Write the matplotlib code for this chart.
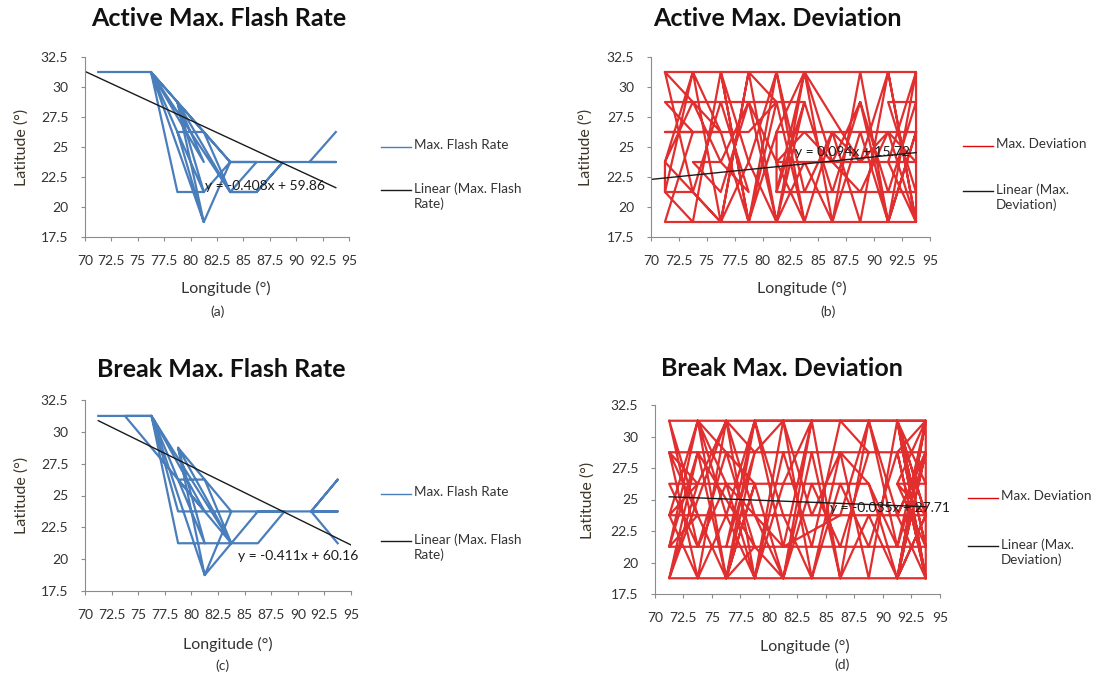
import matplotlib
matplotlib.use("Agg")
import matplotlib.pyplot as plt
from matplotlib.lines import Line2D
import numpy as np

W, H = 1096, 677
plt.rcParams["font.family"] = ["Lato", "DejaVu Sans"]

BLUE = "#4a7ebb"
RED = "#dc0a0a"
TXT = "#333333"

TITLES = ["Active Max. Flash Rate", "Active Max. Deviation",
          "Break Max. Flash Rate", "Break Max. Deviation"]
SERIES = ["Max. Flash Rate", "Max. Deviation", "Max. Flash Rate", "Max. Deviation"]
TREND_LABELS = ["Linear (Max. Flash\nRate)", "Linear (Max.\nDeviation)",
                "Linear (Max. Flash\nRate)", "Linear (Max.\nDeviation)"]
PANEL_TAGS = ["(a)", "(b)", "(c)", "(d)"]

# trend line coefficients as printed on the chart (slope, intercept) and x-span
TREND_SLOPE = [-0.408, 0.094, -0.411, -0.035]
TREND_ICPT = [59.86, 15.72, 60.16, 27.71]
TREND_X = [(70.0, 93.75), (70.0, 93.75), (71.25, 95.0), (71.25, 93.75)]
EQ_TEXT = ["y = -0.408x + 59.86", "y = 0.094x + 15.72",
           "y = -0.411x + 60.16", "y = -0.035x + 27.71"]
EQ_POS = [(81.4, 21.75), (82.9, 24.58), (84.4, 20.25), (85.35, 24.33)]

X_TICKS = [70, 72.5, 75, 77.5, 80, 82.5, 85, 87.5, 90, 92.5, 95]
Y_TICKS = [17.5, 20, 22.5, 25, 27.5, 30, 32.5]

# (a) active, max flash rate track
a_lon = [71.25, 73.75, 76.25, 78.75, 81.25, 76.25, 81.25, 83.75, 78.75, 81.25,
         78.75, 81.25, 83.75, 76.25, 78.75, 81.25, 83.75, 76.25, 81.25, 78.75,
         83.75, 86.25, 83.75, 88.75, 86.25, 83.75, 86.25, 88.75, 91.25, 93.75,
         91.25, 93.75]
a_lat = [31.25, 31.25, 31.25, 21.25, 21.25, 31.25, 18.75, 23.75, 28.75, 18.75,
         26.25, 26.25, 21.25, 31.25, 28.75, 21.25, 23.75, 31.25, 23.75, 28.75,
         21.25, 23.75, 23.75, 23.75, 21.25, 21.25, 21.25, 23.75, 23.75, 23.75,
         23.75, 26.25]

# (b) active, max deviation track
b_lon = [71.25, 93.75, 91.25, 88.75, 86.25, 83.75, 81.25, 78.75, 76.25, 73.75,
         71.25, 73.75, 76.25, 78.75, 81.25, 83.75, 86.25, 88.75, 91.25, 93.75,
         71.25, 73.75, 71.25, 83.75, 81.25, 83.75, 86.25, 88.75, 91.25, 93.75,
         91.25, 93.75, 81.25, 81.25, 93.75, 91.25, 88.75, 86.25, 83.75, 81.25,
         78.75, 76.25, 73.75, 76.25, 78.75, 76.25, 73.75, 71.25, 71.25, 73.75,
         76.25, 71.25, 78.75, 81.25, 78.75, 76.25, 78.75, 81.25, 83.75, 86.25,
         88.75, 91.25, 93.75, 81.25, 83.75, 81.25, 78.75, 76.25, 71.25, 73.75,
         76.25, 78.75, 81.25, 83.75, 88.75, 91.25, 93.75, 91.25, 93.75, 93.75,
         91.25, 88.75, 86.25, 83.75, 81.25, 78.75, 76.25, 73.75, 71.25, 73.75,
         76.25, 78.75, 81.25, 83.75, 86.25, 88.75, 91.25, 93.75]
b_lat = [31.25, 31.25, 18.75, 31.25, 18.75, 31.25, 18.75, 31.25, 18.75, 31.25,
         21.25, 18.75, 31.25, 18.75, 31.25, 18.75, 26.25, 18.75, 31.25, 18.75,
         18.75, 26.25, 28.75, 28.75, 21.25, 31.25, 23.75, 28.75, 21.25, 28.75,
         28.75, 21.25, 21.25, 26.25, 26.25, 18.75, 26.25, 18.75, 23.75, 18.75,
         28.75, 21.25, 23.75, 23.75, 21.25, 28.75, 21.25, 21.25, 23.75, 28.75,
         26.25, 26.25, 26.25, 28.75, 18.75, 31.25, 23.75, 31.25, 21.25, 26.25,
         23.75, 26.25, 23.75, 23.75, 18.75, 28.75, 31.25, 18.75, 23.75, 31.25,
         26.25, 18.75, 26.25, 31.25, 23.75, 31.25, 18.75, 23.75, 31.25, 18.75,
         26.25, 21.25, 23.75, 26.25, 23.75, 28.75, 23.75, 28.75, 31.25, 21.25,
         18.75, 23.75, 18.75, 28.75, 21.25, 28.75, 18.75, 26.25]

# (c) break, max flash rate track
c_lon = [71.25, 76.25, 73.75, 81.25, 76.25, 78.75, 86.25, 88.75, 78.75, 76.25,
         81.25, 83.75, 78.75, 81.25, 76.25, 83.75, 78.75, 81.25, 83.75, 78.75,
         81.25, 83.75, 86.25, 93.75, 91.25, 93.75, 91.25, 93.75]
c_lat = [31.25, 31.25, 31.25, 23.75, 31.25, 21.25, 21.25, 23.75, 23.75, 31.25,
         18.75, 23.75, 28.75, 21.25, 31.25, 21.25, 28.75, 18.75, 21.25, 26.25,
         26.25, 21.25, 23.75, 23.75, 23.75, 26.25, 23.75, 21.25]

# (d) break, max deviation track
d_lon = [71.25, 93.75, 91.25, 93.75, 71.25, 73.75, 76.25, 78.75, 81.25, 83.75,
         86.25, 88.75, 91.25, 93.75, 71.25, 73.75, 76.25, 78.75, 81.25, 83.75,
         86.25, 88.75, 91.25, 93.75, 91.25, 93.75, 71.25, 73.75, 71.25, 93.75,
         91.25, 93.75, 91.25, 93.75, 91.25, 88.75, 71.25, 73.75, 76.25, 78.75,
         76.25, 73.75, 71.25, 76.25, 78.75, 81.25, 83.75, 86.25, 88.75, 86.25,
         83.75, 81.25, 78.75, 76.25, 73.75, 71.25, 73.75, 76.25, 78.75, 81.25,
         83.75, 86.25, 88.75, 91.25, 93.75, 91.25, 93.75, 91.25, 88.75, 86.25,
         83.75, 81.25, 78.75, 76.25, 73.75, 71.25, 73.75, 76.25, 78.75, 81.25,
         83.75, 86.25, 88.75, 91.25, 93.75, 91.25, 93.75, 91.25, 93.75, 91.25,
         93.75, 78.75, 76.25, 78.75, 76.25, 78.75, 73.75, 76.25, 78.75, 81.25,
         83.75, 81.25, 78.75, 73.75, 71.25, 73.75, 71.25, 73.75, 76.25, 81.25,
         86.25, 88.75, 91.25, 93.75, 91.25, 93.75, 93.75]
d_lat = [31.25, 31.25, 18.75, 28.75, 28.75, 18.75, 31.25, 18.75, 31.25, 18.75,
         28.75, 18.75, 31.25, 21.25, 21.25, 31.25, 18.75, 31.25, 21.25, 31.25,
         18.75, 31.25, 21.25, 31.25, 28.75, 18.75, 18.75, 26.25, 23.75, 23.75,
         26.25, 26.25, 31.25, 23.75, 18.75, 26.25, 26.25, 21.25, 28.75, 21.25,
         18.75, 28.75, 18.75, 31.25, 23.75, 18.75, 26.25, 21.25, 28.75, 31.25,
         21.25, 28.75, 18.75, 26.25, 31.25, 23.75, 18.75, 23.75, 31.25, 23.75,
         18.75, 26.25, 21.25, 28.75, 18.75, 31.25, 23.75, 18.75, 23.75, 18.75,
         28.75, 18.75, 26.25, 18.75, 23.75, 28.75, 26.25, 31.25, 28.75, 31.25,
         23.75, 28.75, 26.25, 21.25, 28.75, 23.75, 18.75, 31.25, 21.25, 26.25,
         31.25, 31.25, 21.25, 28.75, 18.75, 26.25, 31.25, 23.75, 18.75, 26.25,
         31.25, 18.75, 21.25, 28.75, 21.25, 23.75, 31.25, 21.25, 26.25, 21.25,
         23.75, 31.25, 23.75, 28.75, 18.75, 31.25, 18.75]

TRACKS = [(a_lon, a_lat), (b_lon, b_lat), (c_lon, c_lat), (d_lon, d_lat)]
COLORS = [BLUE, RED, BLUE, RED]

# layout in pixels (left, top, right, bottom) of each plot area
AX_PX = [(85, 57, 349, 237), (651, 57, 930, 237),
         (85, 400, 351, 591), (655, 405, 940, 594)]
TITLE_PX = [(219, 19), (777, 19), (221, 369), (782, 368)]
YLAB_PX = [(22, 147), (586, 147), (22, 495), (588, 500)]
XLAB_PX = [(226, 288), (802, 288), (228, 644), (805, 646)]
TAG_PX = [(218, 312), (828, 312), (222, 666), (842, 665)]
LEG_PX = [(381, 147, 190), (963, 146, 191), (381, 494, 541), (968, 498, 546)]


def fx(x):
    return x / W


def fy(y):
    return 1 - y / H


def legend_block(fig, x0, y1, y2, color, lab1, lab2):
    for y, c, lab in ((y1, color, lab1), (y2, "#1a1a1a", lab2)):
        fig.add_artist(Line2D([fx(x0), fx(x0 + 30)], [fy(y), fy(y)], color=c, lw=1.0))
        fig.text(fx(x0 + 33), fy(y - 8), lab, ha="left", va="top", fontsize=9.7,
                 color=TXT, linespacing=1.3)


fig = plt.figure(figsize=(W / 100, H / 100), dpi=100)

for k in range(4):
    l, t, r, b = AX_PX[k]
    ax = fig.add_axes([fx(l), fy(b), (r - l) / W, (b - t) / H])
    lon, lat = TRACKS[k]
    alpha = 1.0 if COLORS[k] == BLUE else 0.85
    ax.plot(lon, lat, color=COLORS[k], lw=1.6, alpha=alpha, solid_joinstyle="round")

    x0, x1 = TREND_X[k]
    tx = np.array([x0, x1])
    ax.plot(tx, TREND_SLOPE[k] * tx + TREND_ICPT[k], color="#1a1a1a", lw=1.0)
    ax.text(*EQ_POS[k], EQ_TEXT[k], fontsize=10, color="#1a1a1a", va="center", ha="left")

    ax.set_xlim(70, 95)
    ax.set_ylim(17.5, 32.5)
    ax.set_xticks(X_TICKS)
    ax.set_xticklabels([f"{v:g}" for v in X_TICKS])
    ax.set_yticks(Y_TICKS)
    ax.set_yticklabels([f"{v:g}" for v in Y_TICKS])
    for s in ("top", "right"):
        ax.spines[s].set_visible(False)
    for s in ("left", "bottom"):
        ax.spines[s].set_color("#8c8c8c")
        ax.spines[s].set_linewidth(0.8)
    ax.tick_params(axis="x", length=3, width=0.8, color="#8c8c8c", pad=10,
                   labelsize=10, labelcolor=TXT)
    ax.tick_params(axis="y", length=3, width=0.8, color="#8c8c8c", pad=9,
                   labelsize=10, labelcolor=TXT)

    fig.text(fx(TITLE_PX[k][0]), fy(TITLE_PX[k][1]), TITLES[k], ha="center", va="center",
             fontsize=18, fontweight="bold", color="#111111")
    fig.text(fx(YLAB_PX[k][0]), fy(YLAB_PX[k][1]), "Latitude (°)", ha="center", va="center",
             rotation=90, fontsize=11.5, color="#3d3526")
    fig.text(fx(XLAB_PX[k][0]), fy(XLAB_PX[k][1]), "Longitude (°)", ha="center",
             va="center", fontsize=11.5, color=TXT)
    fig.text(fx(TAG_PX[k][0]), fy(TAG_PX[k][1]), PANEL_TAGS[k], ha="center", va="center",
             fontsize=10, color=TXT)

    lx, ly1, ly2 = LEG_PX[k]
    legend_block(fig, lx, ly1, ly2, COLORS[k], SERIES[k], TREND_LABELS[k])

fig.savefig("out.png", dpi=100, facecolor="white")
